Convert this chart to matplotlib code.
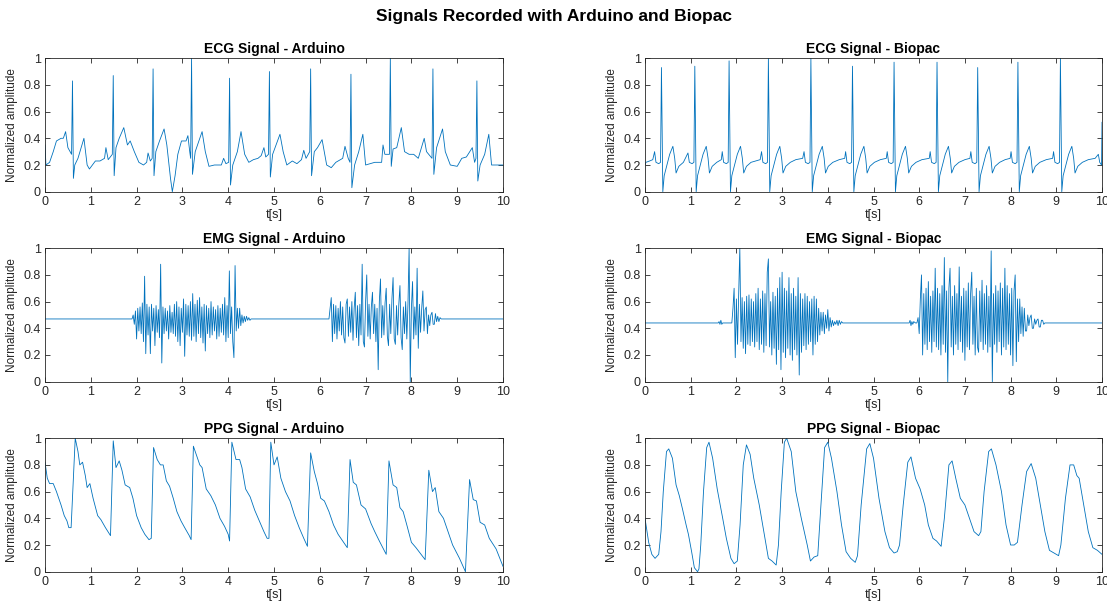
import numpy as np
import matplotlib
matplotlib.use("Agg")
import matplotlib.pyplot as plt

plt.rcParams['font.family'] = ['Liberation Sans', 'DejaVu Sans']

LINE_COLOR = '#0072BD'
AX_COLOR = '#262626'

# ---------------- ECG Arduino (t [s], normalized amplitude) ----------------
ecg_ard_t = [0.00, 0.02, 0.10, 0.18, 0.25, 0.35, 0.40, 0.45, 0.50, 0.58, 0.60, 0.62, 0.65, 0.72, 0.85, 0.92, 0.97,
             1.10, 1.20, 1.30, 1.33, 1.38, 1.47, 1.49, 1.51, 1.55, 1.62, 1.72, 1.80, 1.86, 1.95, 2.05, 2.15,
             2.22, 2.25, 2.30, 2.34, 2.36, 2.38, 2.42, 2.50, 2.60, 2.66, 2.74, 2.78, 2.84, 2.90, 2.98, 3.08,
             3.12, 3.16, 3.18, 3.20, 3.22, 3.28, 3.43, 3.50, 3.58, 3.70, 3.85, 3.90, 3.95, 4.01, 4.03, 4.05,
             4.10, 4.20, 4.28, 4.36, 4.45, 4.55, 4.65, 4.72, 4.78, 4.82, 4.88, 4.90, 4.92, 4.97, 5.13, 5.20,
             5.28, 5.40, 5.50, 5.60, 5.65, 5.70, 5.78, 5.80, 5.82, 5.88, 5.95, 6.05, 6.15, 6.25, 6.35, 6.50,
             6.55, 6.62, 6.66, 6.68, 6.70, 6.76, 6.85, 6.94, 7.00, 7.10, 7.20, 7.35, 7.38, 7.42, 7.52, 7.54,
             7.56, 7.60, 7.68, 7.78, 7.85, 7.95, 8.05, 8.15, 8.28, 8.33, 8.45, 8.47, 8.49, 8.55, 8.68, 8.74,
             8.85, 9.00, 9.10, 9.20, 9.33, 9.38, 9.41, 9.43, 9.45, 9.50, 9.60, 9.69, 9.75, 9.90, 10.00]
ecg_ard_v = [0.35, 0.20, 0.22, 0.30, 0.38, 0.40, 0.40, 0.45, 0.33, 0.28, 0.83, 0.10, 0.20, 0.25, 0.40, 0.20, 0.17,
             0.23, 0.23, 0.25, 0.33, 0.24, 0.28, 0.87, 0.12, 0.33, 0.40, 0.48, 0.35, 0.38, 0.30, 0.22, 0.20,
             0.22, 0.29, 0.23, 0.25, 0.92, 0.12, 0.30, 0.38, 0.47, 0.35, 0.10, 0.00, 0.12, 0.28, 0.38, 0.38,
             0.42, 0.30, 0.25, 1.00, 0.13, 0.30, 0.45, 0.30, 0.19, 0.20, 0.20, 0.25, 0.21, 0.22, 0.85, 0.05,
             0.20, 0.30, 0.45, 0.28, 0.22, 0.24, 0.25, 0.27, 0.33, 0.26, 0.28, 0.90, 0.11, 0.28, 0.43, 0.30,
             0.20, 0.23, 0.21, 0.24, 0.31, 0.25, 0.30, 0.92, 0.12, 0.30, 0.33, 0.39, 0.20, 0.18, 0.22, 0.25,
             0.34, 0.25, 0.22, 0.88, 0.03, 0.20, 0.30, 0.43, 0.20, 0.21, 0.22, 0.22, 0.35, 0.28, 0.28, 1.00,
             0.19, 0.32, 0.33, 0.48, 0.30, 0.28, 0.28, 0.25, 0.40, 0.30, 0.25, 0.92, 0.13, 0.33, 0.47, 0.30,
             0.20, 0.19, 0.25, 0.26, 0.33, 0.22, 0.25, 0.83, 0.08, 0.20, 0.28, 0.43, 0.20, 0.20, 0.20]

# ---------------- ECG Biopac ----------------
ecg_bio_t = [0.00, 0.02, 0.10, 0.17, 0.21, 0.24, 0.30, 0.34, 0.36, 0.39, 0.42, 0.48, 0.54, 0.61, 0.65, 0.68, 0.74, 0.84,
             0.94, 0.97, 1.03, 1.07, 1.09, 1.12, 1.15, 1.21, 1.27, 1.34, 1.38, 1.41, 1.47, 1.57, 1.67,
             1.69, 1.72, 1.78, 1.82, 1.84, 1.87, 1.90, 1.96, 2.02, 2.09, 2.13, 2.16, 2.22, 2.32, 2.42, 2.52,
             2.55, 2.58, 2.64, 2.68, 2.70, 2.73, 2.76, 2.82, 2.88, 2.95, 2.99, 3.02, 3.08, 3.18, 3.30, 3.45,
             3.48, 3.51, 3.57, 3.61, 3.63, 3.66, 3.69, 3.75, 3.81, 3.88, 3.92, 3.95, 4.01, 4.11, 4.25, 4.37,
             4.39, 4.42, 4.48, 4.52, 4.54, 4.57, 4.60, 4.66, 4.72, 4.79, 4.83, 4.86, 4.92, 5.02, 5.15, 5.28,
             5.30, 5.33, 5.39, 5.43, 5.45, 5.48, 5.51, 5.57, 5.63, 5.70, 5.74, 5.77, 5.83, 5.93, 6.06, 6.22,
             6.24, 6.27, 6.33, 6.37, 6.39, 6.42, 6.45, 6.51, 6.57, 6.64, 6.68, 6.71, 6.77, 6.87, 7.00, 7.11,
             7.13, 7.16, 7.22, 7.26, 7.28, 7.31, 7.34, 7.40, 7.46, 7.53, 7.57, 7.60, 7.66, 7.76, 7.88, 7.99,
             8.01, 8.04, 8.10, 8.14, 8.16, 8.19, 8.22, 8.28, 8.34, 8.41, 8.45, 8.48, 8.54, 8.64, 8.78, 8.92,
             8.94, 8.97, 9.03, 9.07, 9.09, 9.12, 9.15, 9.21, 9.27, 9.34, 9.38, 9.41, 9.47, 9.57, 9.70, 9.85,
             9.92, 9.95, 9.99, 10.00]
ecg_bio_v = [0.20, 0.22, 0.23, 0.24, 0.30, 0.22, 0.21, 0.22, 0.93, 0.00, 0.12, 0.20, 0.28, 0.34, 0.25, 0.14, 0.19, 0.22,
             0.29, 0.22, 0.21, 0.22, 0.94, 0.00, 0.12, 0.20, 0.28, 0.34, 0.25, 0.14, 0.19, 0.22, 0.24,
             0.30, 0.22, 0.21, 0.22, 0.98, 0.00, 0.12, 0.20, 0.28, 0.34, 0.25, 0.14, 0.19, 0.22, 0.23, 0.24,
             0.30, 0.22, 0.21, 0.22, 1.00, 0.00, 0.12, 0.20, 0.28, 0.34, 0.25, 0.14, 0.19, 0.22, 0.24, 0.25,
             0.30, 0.22, 0.21, 0.22, 1.00, 0.00, 0.12, 0.20, 0.28, 0.34, 0.25, 0.14, 0.19, 0.22, 0.24, 0.25,
             0.30, 0.22, 0.21, 0.22, 0.94, 0.00, 0.12, 0.20, 0.28, 0.34, 0.25, 0.14, 0.19, 0.22, 0.24, 0.25,
             0.30, 0.22, 0.21, 0.22, 0.97, 0.00, 0.12, 0.20, 0.28, 0.34, 0.25, 0.14, 0.19, 0.22, 0.24, 0.25,
             0.30, 0.22, 0.21, 0.22, 0.97, 0.00, 0.12, 0.20, 0.28, 0.34, 0.25, 0.14, 0.19, 0.22, 0.24, 0.25,
             0.30, 0.22, 0.21, 0.22, 0.93, 0.00, 0.12, 0.20, 0.28, 0.34, 0.25, 0.14, 0.19, 0.22, 0.24, 0.25,
             0.30, 0.22, 0.21, 0.22, 0.97, 0.00, 0.12, 0.20, 0.28, 0.34, 0.25, 0.14, 0.19, 0.22, 0.24, 0.25,
             0.30, 0.22, 0.21, 0.22, 1.00, 0.00, 0.12, 0.20, 0.28, 0.34, 0.25, 0.14, 0.19, 0.22, 0.24, 0.25,
             0.28, 0.22, 0.20, 0.52]

# ---------------- EMG Arduino ----------------
emg_ard_quiet_t = [0.0, 0.5, 1.0, 1.5, 1.88, 4.52, 5.0, 5.5, 6.0, 6.18, 8.67, 9.0, 9.5, 10.0]
emg_ard_quiet_v = [0.47, 0.47, 0.47, 0.47, 0.47, 0.47, 0.47, 0.47, 0.47, 0.47, 0.47, 0.47, 0.47, 0.47]
emg_step = 0.025
emg_ard_b1_start = 1.90
emg_ard_b1 = [0.47, 0.50, 0.43, 0.53, 0.32, 0.55, 0.38, 0.56, 0.36, 0.59, 0.30, 0.79, 0.21, 0.58, 0.35, 0.56,
              0.21, 0.58, 0.38, 0.55, 0.27, 0.57, 0.37, 0.54, 0.33, 0.88, 0.14, 0.56, 0.36, 0.55, 0.38, 0.53,
              0.32, 0.57, 0.37, 0.52, 0.36, 0.58, 0.34, 0.60, 0.30, 0.56, 0.27, 0.55, 0.37, 0.62, 0.19, 0.58,
              0.35, 0.57, 0.34, 0.60, 0.31, 0.66, 0.34, 0.58, 0.30, 0.61, 0.36, 0.63, 0.33, 0.56, 0.29, 0.58,
              0.23, 0.57, 0.36, 0.55, 0.33, 0.60, 0.35, 0.56, 0.38, 0.54, 0.32, 0.57, 0.34, 0.55, 0.37, 0.58,
              0.35, 0.63, 0.30, 0.57, 0.33, 0.83, 0.36, 0.56, 0.30, 0.18, 0.87, 0.38, 0.55, 0.40, 0.55, 0.42,
              0.50, 0.44, 0.49, 0.45, 0.49, 0.46, 0.48, 0.46, 0.47]
emg_ard_b2_start = 6.20
emg_ard_b2 = [0.47, 0.55, 0.63, 0.30, 0.58, 0.36, 0.57, 0.32, 0.55, 0.38, 0.60, 0.35, 0.56, 0.33, 0.29, 0.58,
              0.62, 0.34, 0.56, 0.37, 0.60, 0.31, 0.55, 0.67, 0.33, 0.57, 0.27, 0.58, 0.35, 0.88, 0.30, 0.26,
              0.60, 0.80, 0.34, 0.58, 0.32, 0.56, 0.67, 0.36, 0.58, 0.30, 0.55, 0.09, 0.60, 0.77, 0.33, 0.57,
              0.35, 0.59, 0.70, 0.34, 0.27, 0.58, 0.36, 0.62, 0.78, 0.32, 0.28, 0.57, 0.35, 0.58, 0.72, 0.33,
              0.24, 0.56, 0.36, 0.60, 0.32, 0.58, 1.00, 0.00, 0.55, 0.75, 0.32, 0.56, 0.35, 0.85, 0.25, 0.58,
              0.37, 0.55, 0.68, 0.38, 0.54, 0.56, 0.36, 0.50, 0.42, 0.50, 0.52, 0.43, 0.43, 0.51, 0.45, 0.49,
              0.45, 0.48, 0.47]

# ---------------- EMG Biopac ----------------
emg_bio_quiet_t = [0.0, 1.0, 1.60, 1.62, 1.64, 1.66, 1.68, 1.70, 1.88, 4.37, 5.0, 5.78, 5.80, 5.82, 5.84,
                   5.86, 5.88, 5.92, 8.82, 9.5, 10.0]
emg_bio_quiet_v = [0.44, 0.44, 0.44, 0.45, 0.43, 0.46, 0.43, 0.44, 0.44, 0.44, 0.44, 0.44, 0.46, 0.42, 0.45,
                   0.43, 0.45, 0.44, 0.44, 0.44, 0.44]
emg_bio_b1_start = 1.90
emg_bio_b1 = [0.44, 0.55, 0.70, 0.18, 0.62, 0.28, 0.66, 1.00, 0.30, 0.63, 0.25, 0.60, 0.21, 0.64, 0.28, 0.65,
              0.27, 0.62, 0.30, 0.60, 0.26, 0.66, 0.30, 0.70, 0.24, 0.62, 0.28, 0.68, 0.22, 0.66, 0.27, 0.82,
              0.92, 0.26, 0.60, 0.20, 0.67, 0.25, 0.64, 0.13, 0.70, 0.24, 0.78, 0.09, 0.82, 0.22, 0.70, 0.18,
              0.68, 0.25, 0.78, 0.20, 0.66, 0.16, 0.70, 0.24, 0.64, 0.20, 0.78, 0.05, 0.66, 0.22, 0.62, 0.27,
              0.66, 0.24, 0.64, 0.28, 0.60, 0.30, 0.62, 0.20, 0.64, 0.28, 0.62, 0.30, 0.55, 0.35, 0.52, 0.38,
              0.52, 0.36, 0.50, 0.40, 0.54, 0.38, 0.48, 0.41, 0.46, 0.42, 0.45, 0.43, 0.46, 0.42, 0.46, 0.43,
              0.45, 0.44, 0.44]
emg_bio_b2_start = 5.95
emg_bio_b2 = [0.44, 0.48, 0.36, 0.62, 0.80, 0.20, 0.66, 0.28, 0.70, 0.24, 0.75, 0.30, 0.64, 0.22, 0.68, 0.30,
              0.85, 0.26, 0.70, 0.24, 0.66, 0.20, 0.72, 0.28, 0.93, 0.22, 0.68, 0.00, 0.70, 0.85, 0.26, 0.64,
              0.20, 0.72, 0.28, 0.66, 0.24, 0.86, 0.30, 0.64, 0.22, 0.70, 0.16, 0.68, 0.26, 0.74, 0.24, 0.66,
              0.82, 0.28, 0.64, 0.20, 0.70, 0.26, 0.22, 0.68, 0.30, 0.76, 0.24, 0.66, 0.28, 0.72, 0.22, 0.64,
              0.26, 0.98, 0.00, 0.66, 0.28, 0.72, 0.22, 0.68, 0.30, 0.74, 0.20, 0.70, 0.26, 0.85, 0.24, 0.72,
              0.28, 0.66, 0.20, 0.70, 0.12, 0.68, 0.80, 0.15, 0.62, 0.30, 0.62, 0.36, 0.56, 0.34, 0.55, 0.38,
              0.38, 0.50, 0.42, 0.48, 0.50, 0.40, 0.40, 0.47, 0.43, 0.46, 0.47, 0.41, 0.41, 0.46, 0.46, 0.43,
              0.44, 0.44, 0.44]

# ---------------- PPG Arduino ----------------
ppg_ard_t = [0.00, 0.05, 0.10, 0.18, 0.25, 0.35, 0.42, 0.48, 0.52, 0.57, 0.66, 0.72, 0.76, 0.82, 0.88, 0.92, 0.98,
             1.05, 1.15, 1.22, 1.32, 1.43, 1.49, 1.55, 1.62, 1.68, 1.75, 1.85, 1.92, 2.00, 2.10, 2.18, 2.27,
             2.32, 2.37, 2.45, 2.52, 2.58, 2.65, 2.72, 2.80, 2.88, 2.97, 3.05, 3.15, 3.19, 3.24, 3.30, 3.38,
             3.43, 3.52, 3.62, 3.72, 3.82, 3.92, 4.00, 4.03, 4.08, 4.17, 4.25, 4.30, 4.38, 4.48, 4.58, 4.68,
             4.78, 4.85, 4.89, 4.93, 5.00, 5.07, 5.15, 5.25, 5.35, 5.45, 5.55, 5.65, 5.73, 5.80, 5.88, 5.95,
             6.02, 6.10, 6.20, 6.30, 6.40, 6.50, 6.60, 6.66, 6.73, 6.80, 6.90, 7.00, 7.12, 7.20, 7.30, 7.45,
             7.51, 7.60, 7.68, 7.75, 7.82, 7.90, 8.00, 8.10, 8.30, 8.38, 8.46, 8.52, 8.60, 8.70, 8.80, 8.90,
             9.05, 9.18, 9.27, 9.35, 9.42, 9.50, 9.60, 9.70, 9.85, 10.00]
ppg_ard_v = [0.82, 0.70, 0.66, 0.66, 0.60, 0.50, 0.42, 0.38, 0.33, 0.33, 1.00, 0.90, 0.80, 0.82, 0.72, 0.63, 0.66,
             0.55, 0.42, 0.39, 0.33, 0.27, 0.98, 0.78, 0.83, 0.76, 0.65, 0.63, 0.55, 0.42, 0.33, 0.28, 0.24,
             0.25, 0.93, 0.84, 0.80, 0.80, 0.68, 0.64, 0.55, 0.45, 0.38, 0.33, 0.27, 0.24, 0.94, 0.88, 0.80,
             0.78, 0.62, 0.57, 0.50, 0.40, 0.34, 0.28, 0.23, 0.97, 0.84, 0.84, 0.78, 0.62, 0.56, 0.46, 0.38,
             0.30, 0.25, 0.25, 0.97, 0.80, 0.86, 0.70, 0.60, 0.53, 0.42, 0.33, 0.25, 0.19, 0.89, 0.75, 0.66,
             0.55, 0.53, 0.45, 0.35, 0.28, 0.23, 0.18, 0.84, 0.67, 0.65, 0.50, 0.47, 0.36, 0.30, 0.23, 0.13,
             0.83, 0.65, 0.63, 0.48, 0.45, 0.35, 0.22, 0.18, 0.09, 0.76, 0.60, 0.63, 0.45, 0.40, 0.30, 0.20,
             0.10, 0.00, 0.69, 0.54, 0.53, 0.37, 0.35, 0.25, 0.17, 0.04]

# ---------------- PPG Biopac ----------------
ppg_bio_t = [0.00, 0.08, 0.15, 0.22, 0.30, 0.35, 0.40, 0.47, 0.52, 0.60, 0.68, 0.75, 0.82, 0.90, 0.95, 1.02, 1.08,
             1.15, 1.18, 1.22, 1.28, 1.35, 1.40, 1.48, 1.58, 1.70, 1.78, 1.88, 1.95, 2.02, 2.08, 2.15, 2.22,
             2.30, 2.38, 2.50, 2.60, 2.70, 2.78, 2.87, 2.92, 2.98, 3.05, 3.10, 3.20, 3.30, 3.42, 3.55, 3.62,
             3.70, 3.78, 3.85, 3.93, 4.00, 4.08, 4.20, 4.30, 4.40, 4.50, 4.60, 4.65, 4.73, 4.85, 4.92, 5.00,
             5.12, 5.25, 5.35, 5.45, 5.52, 5.57, 5.65, 5.75, 5.82, 5.92, 6.02, 6.12, 6.20, 6.30, 6.38, 6.48,
             6.55, 6.65, 6.72, 6.80, 6.90, 7.00, 7.10, 7.20, 7.30, 7.35, 7.42, 7.52, 7.58, 7.68, 7.80, 7.90,
             8.00, 8.08, 8.15, 8.25, 8.35, 8.45, 8.55, 8.65, 8.75, 8.85, 8.95, 9.05, 9.10, 9.20, 9.30, 9.38,
             9.45, 9.50, 9.60, 9.70, 9.80, 9.90, 10.00]
ppg_bio_v = [0.40, 0.22, 0.13, 0.10, 0.13, 0.30, 0.60, 0.90, 0.92, 0.85, 0.65, 0.57, 0.47, 0.35, 0.28, 0.15, 0.03,
             0.00, 0.02, 0.20, 0.60, 0.93, 0.97, 0.85, 0.62, 0.40, 0.25, 0.10, 0.06, 0.08, 0.35, 0.80, 0.95,
             0.88, 0.70, 0.50, 0.30, 0.10, 0.08, 0.05, 0.20, 0.60, 0.97, 1.00, 0.90, 0.60, 0.40, 0.20, 0.08,
             0.11, 0.12, 0.50, 0.93, 0.97, 0.85, 0.60, 0.35, 0.15, 0.10, 0.07, 0.12, 0.50, 0.92, 0.96, 0.85,
             0.55, 0.30, 0.18, 0.14, 0.15, 0.20, 0.50, 0.82, 0.86, 0.70, 0.62, 0.50, 0.35, 0.25, 0.23, 0.19,
             0.40, 0.80, 0.83, 0.70, 0.55, 0.50, 0.40, 0.30, 0.27, 0.30, 0.60, 0.90, 0.92, 0.80, 0.60, 0.35,
             0.20, 0.20, 0.22, 0.50, 0.75, 0.81, 0.70, 0.50, 0.30, 0.16, 0.14, 0.12, 0.20, 0.55, 0.80, 0.80,
             0.72, 0.70, 0.50, 0.30, 0.18, 0.16, 0.13]

titles = ["ECG Signal - Arduino", "ECG Signal - Biopac",
          "EMG Signal - Arduino", "EMG Signal - Biopac",
          "PPG Signal - Arduino", "PPG Signal - Biopac"]
suptitle = "Signals Recorded with Arduino and Biopac"
xlabel = "t[s]"
ylabel = "Normalized amplitude"
xticks = list(range(0, 11))
yticks = [0, 0.2, 0.4, 0.6, 0.8, 1]
ytick_labels = ["0", "0.2", "0.4", "0.6", "0.8", "1"]


def emg_series(quiet_t, quiet_v, bursts):
    t = list(quiet_t)
    v = list(quiet_v)
    for start, vals in bursts:
        t += list(start + emg_step * np.arange(len(vals)))
        v += list(vals)
    order = np.argsort(t, kind="stable")
    return np.asarray(t)[order], np.asarray(v)[order]


emg_ard = emg_series(emg_ard_quiet_t, emg_ard_quiet_v,
                     [(emg_ard_b1_start, emg_ard_b1), (emg_ard_b2_start, emg_ard_b2)])
emg_bio = emg_series(emg_bio_quiet_t, emg_bio_quiet_v,
                     [(emg_bio_b1_start, emg_bio_b1), (emg_bio_b2_start, emg_bio_b2)])

series = [(ecg_ard_t, ecg_ard_v), (ecg_bio_t, ecg_bio_v),
          emg_ard, emg_bio,
          (ppg_ard_t, ppg_ard_v), (ppg_bio_t, ppg_bio_v)]

W, H = 1107, 608
fig = plt.figure(figsize=(W / 100, H / 100), dpi=100)
fig.patch.set_facecolor("white")

col_left = [45 / W, 645 / W]
col_width = [458 / W, 457 / W]
row_bottom = [1 - 191.7 / H, 1 - 381.7 / H, 1 - 571.7 / H]
row_h = 133.5 / H

for k, (t, v) in enumerate(series):
    r, c = divmod(k, 2)
    ax = fig.add_axes([col_left[c], row_bottom[r], col_width[c], row_h])
    ax.plot(t, v, color=LINE_COLOR, lw=0.6)
    ax.set_xlim(0, 10)
    ax.set_ylim(0, 1)
    ax.set_xticks(xticks)
    ax.set_yticks(yticks)
    ax.set_yticklabels(ytick_labels)
    ax.tick_params(direction="in", top=True, right=True, length=3.5, width=0.6,
                   labelsize=9, colors=AX_COLOR, pad=3)
    for s in ax.spines.values():
        s.set_color(AX_COLOR)
        s.set_linewidth(0.6)
    ax.set_title(titles[k], fontsize=10, fontweight="bold", color="black", pad=4)
    ax.set_xlabel(xlabel, fontsize=9, color=AX_COLOR, labelpad=1)
    ax.set_ylabel(ylabel, fontsize=8.5, color=AX_COLOR, labelpad=4)

fig.text(0.5, 1 - 17 / H, suptitle, ha="center", va="center", fontsize=12.5,
         fontweight="bold", color="black")

fig.savefig("out.png", dpi=100, facecolor="white")
